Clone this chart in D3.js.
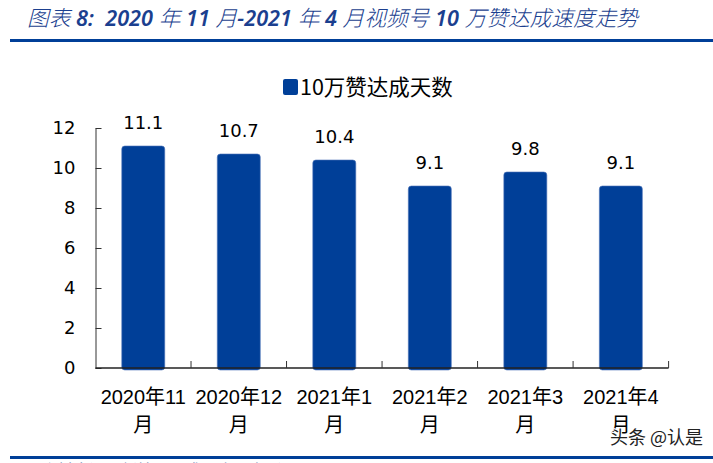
<!DOCTYPE html>
<html>
<head>
<meta charset="utf-8">
<script src="https://cdn.jsdelivr.net/npm/d3@7"></script>
<style>
  body { margin: 0; background: #fff; }
  svg { display: block; }
</style>
</head>
<body>
<script>
// data
const categories = ["2020年11月", "2020年12月", "2021年1月", "2021年2月", "2021年3月", "2021年4月"]
const labelLines = [["2020年11", "月"], ["2020年12", "月"], ["2021年1", "月"], ["2021年2", "月"], ["2021年3", "月"], ["2021年4", "月"]]
const days = [11.1, 10.7, 10.4, 9.1, 9.8, 9.1]
const yTicks = [0, 2, 4, 6, 8, 10, 12]
const seriesName = "10万赞达成天数"
const title = "图表 8:  2020 年 11 月-2021 年 4 月视频号 10 万赞达成速度走势"

const width = 713, height = 463
const blue = "#003f98"

const svg = d3.select("body").append("svg")
    .attr("width", width)
    .attr("height", height)

// header: latin runs heavier than the CJK runs, all slanted
const runs = title.match(/[\u4e00-\u9fff]+|[^\u4e00-\u9fff]+/g)
const isCjk = s => /[\u4e00-\u9fff]/.test(s)
svg.append("text")
    .attr("x", 27)
    .attr("y", 26)
    .attr("fill", "#1b3f8f")
    .style("font-style", "italic")
    .style("font-size", "21.7px")
    .style("white-space", "pre")
    .selectAll("tspan")
    .data(runs)
    .join("tspan")
    .style("font-family", d => isCjk(d) ? "'Noto Sans CJK SC', sans-serif" : "'Noto Sans', sans-serif")
    .style("font-weight", d => isCjk(d) ? "300" : "600")
    .text(d => d)

svg.append("rect")
    .attr("x", 10).attr("y", 39)
    .attr("width", width - 10).attr("height", 3)
    .attr("fill", blue)

const x = d3.scaleBand()
    .domain(categories)
    .range([95.5, 668.6])
    .paddingInner(0.55)
    .paddingOuter(0.275)

const y = d3.scaleLinear()
    .domain([0, 12])
    .range([368, 128])

// legend
const legend = svg.append("g").attr("transform", "translate(283,79)")
legend.append("rect")
    .attr("width", 15).attr("height", 16).attr("rx", 2)
    .attr("fill", blue)
legend.append("text")
    .attr("x", 17).attr("y", 15.5)
    .style("font-family", "'Noto Sans CJK SC', sans-serif")
    .style("font-size", "21.5px")
    .attr("fill", "#000")
    .text(seriesName)

// bars
svg.append("g")
    .selectAll("rect")
    .data(days)
    .join("rect")
    .attr("x", (d, i) => x(categories[i]))
    .attr("y", d => y(d))
    .attr("width", x.bandwidth())
    .attr("height", d => y(0) - y(d) + 2)
    .attr("rx", 3)
    .attr("fill", blue)
    .attr("stroke", "#4d74b8")
    .attr("stroke-width", 0.6)

// value labels
svg.append("g")
    .selectAll("text")
    .data(days)
    .join("text")
    .attr("x", (d, i) => x(categories[i]) + x.bandwidth() / 2)
    .attr("y", d => y(d) - 17)
    .attr("text-anchor", "middle")
    .style("font-family", "'DejaVu Sans', sans-serif")
    .style("font-size", "18px")
    .attr("fill", "#000")
    .text(d => d.toFixed(1))

// y axis
const yAxis = svg.append("g")
    .attr("transform", "translate(95.5,0)")
    .call(d3.axisLeft(y).tickValues(yTicks).tickSize(-6).tickSizeOuter(0).tickPadding(20))
yAxis.select(".domain").attr("stroke", "#333")
yAxis.selectAll(".tick line").attr("stroke", "#333")
yAxis.selectAll(".tick text")
    .style("font-family", "'DejaVu Sans', sans-serif")
    .style("font-size", "18px")
    .attr("fill", "#000")

// x axis with ticks between the bands, pointing up
const bounds = categories.map(c => x(c) + x.bandwidth() / 2 - x.step() / 2)
bounds.push(x(categories[categories.length - 1]) + x.bandwidth() / 2 + x.step() / 2)

const xAxis = svg.append("g")
xAxis.append("line")
    .attr("x1", bounds[0]).attr("x2", bounds[bounds.length - 1])
    .attr("y1", y(0)).attr("y2", y(0))
    .attr("stroke", "#222").attr("stroke-width", 1.3)
xAxis.selectAll("line.tick")
    .data(bounds.slice(1))
    .join("line")
    .attr("class", "tick")
    .attr("x1", d => d).attr("x2", d => d)
    .attr("y1", y(0)).attr("y2", y(0) - 7)
    .attr("stroke", "#333")

xAxis.selectAll("text")
    .data(labelLines)
    .join("text")
    .attr("x", (d, i) => x(categories[i]) + x.bandwidth() / 2)
    .attr("y", 404)
    .attr("text-anchor", "middle")
    .style("font-family", "'Liberation Sans', 'Noto Sans CJK SC', sans-serif")
    .style("font-size", "20px")
    .attr("fill", "#000")
    .selectAll("tspan")
    .data(d => d)
    .join("tspan")
    .attr("x", function () { return this.parentNode.getAttribute("x") })
    .attr("dy", (d, i) => i === 0 ? 0 : 28)
    .text(d => d)

// watermark
svg.append("text")
    .attr("x", 610)
    .attr("y", 444)
    .style("font-family", "'Noto Sans CJK SC', sans-serif")
    .style("font-size", "18px")
    .attr("fill", "#222")
    .attr("stroke", "#fff")
    .attr("stroke-width", 2)
    .attr("paint-order", "stroke")
    .text("头条 @认是")

// footer rule and the source line clipped by the page edge
svg.append("rect")
    .attr("x", 10).attr("y", 456)
    .attr("width", width - 10).attr("height", 3)
    .attr("fill", blue)

svg.append("text")
    .attr("x", 38)
    .attr("y", 476)
    .style("font-family", "'Noto Sans CJK SC', sans-serif")
    .style("font-style", "italic")
    .style("font-size", "16px")
    .attr("fill", "#1b3f8f")
    .text("资料来源：新榜，国盛证券研究所")
</script>
</body>
</html>
